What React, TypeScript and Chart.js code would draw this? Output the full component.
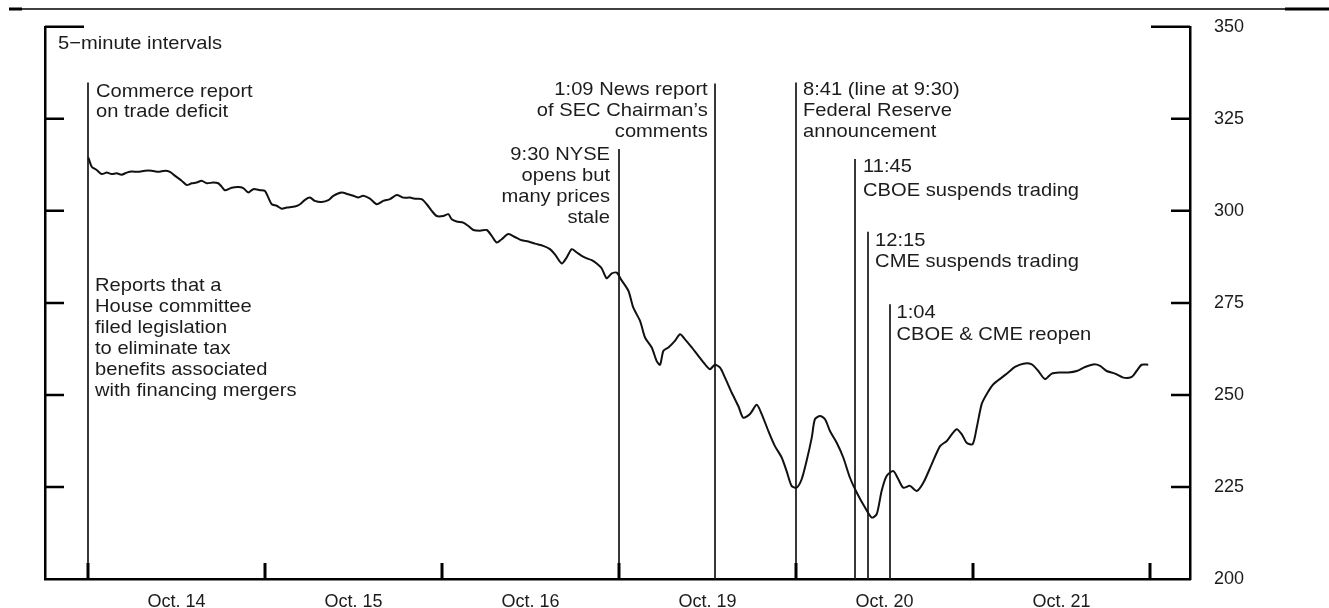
import { useEffect, useRef } from 'react';
import { Chart, registerables } from 'chart.js';

Chart.register(...registerables);

// ---- Data -------------------------------------------------------------
const dayLabels = ['Oct. 14', 'Oct. 15', 'Oct. 16', 'Oct. 19', 'Oct. 20', 'Oct. 21'];
const yTickValues = [200, 225, 250, 275, 300, 325, 350];

// position in trading days since the Oct. 14 open (one trading day = 9:30-4:15)
const tradingDay = [
  0.002, 0.021, 0.049, 0.077, 0.106, 0.134, 0.162, 0.190, 0.219, 0.247,
  0.284, 0.322, 0.360, 0.397, 0.435, 0.463, 0.492, 0.529, 0.558, 0.586,
  0.614, 0.642, 0.671, 0.708, 0.736, 0.755, 0.774, 0.812, 0.849, 0.877,
  0.906, 0.934, 0.972, 1.000, 1.019, 1.038, 1.066, 1.094, 1.123, 1.169,
  1.198, 1.226, 1.254, 1.282, 1.320, 1.358, 1.386, 1.433, 1.471, 1.499,
  1.527, 1.555, 1.593, 1.631, 1.668, 1.706, 1.744, 1.781, 1.819, 1.847,
  1.885, 1.914, 1.942, 1.970, 2.007, 2.036, 2.055, 2.083, 2.120, 2.149,
  2.177, 2.215, 2.253, 2.281, 2.309, 2.337, 2.375, 2.412, 2.450, 2.488,
  2.525, 2.572, 2.610, 2.638, 2.676, 2.704, 2.733, 2.761, 2.789, 2.818,
  2.846, 2.874, 2.902, 2.930, 2.959, 2.987,
  3.011, 3.053, 3.081, 3.119, 3.147, 3.185, 3.213, 3.232, 3.251, 3.279,
  3.316, 3.345, 3.373, 3.411, 3.448, 3.486, 3.514, 3.542, 3.571, 3.599,
  3.637, 3.674, 3.702, 3.740, 3.778, 3.806, 3.844, 3.881, 3.919, 3.947,
  3.975, 4.003, 4.032, 4.060, 4.089, 4.107, 4.136, 4.164, 4.192, 4.230,
  4.267, 4.305, 4.343, 4.390, 4.428, 4.456, 4.484, 4.512, 4.550, 4.578,
  4.606, 4.644, 4.682, 4.720, 4.767, 4.814, 4.852, 4.880, 4.908, 4.937,
  4.964, 4.998, 5.021, 5.049, 5.077, 5.115, 5.162, 5.199, 5.237, 5.284,
  5.332, 5.369, 5.407, 5.445, 5.492, 5.539, 5.586, 5.633, 5.680, 5.718,
  5.755, 5.802, 5.849, 5.897, 5.924, 5.953, 5.990,
];

const indexLevel = [
  314.5, 312.0, 311.1, 310.0, 310.4, 310.0, 310.2, 309.8, 310.4, 310.7,
  310.6, 310.9, 310.9, 310.6, 310.9, 310.6, 309.5, 308.2, 307.0, 307.5,
  307.7, 308.2, 307.5, 307.7, 307.5, 306.6, 305.6, 306.3, 306.5, 306.2,
  305.0, 305.9, 305.6, 305.4, 303.6, 301.8, 301.4, 300.6, 300.9, 301.2,
  301.8, 303.0, 303.6, 302.7, 302.4, 302.9, 304.1, 305.0, 304.5, 304.1,
  303.6, 304.1, 303.3, 301.8, 302.7, 303.2, 304.3, 303.6, 303.6, 303.3,
  303.2, 301.8, 300.0, 298.6, 298.6, 299.1, 297.7, 297.1, 296.8, 295.9,
  294.8, 294.6, 294.8, 293.2, 291.4, 292.3, 293.7, 292.9, 292.0, 291.7,
  291.1, 290.5, 289.6, 288.2, 285.7, 287.3, 289.6, 288.7, 287.8, 287.1,
  286.6, 285.7, 284.4, 281.7, 283.0, 283.2,
  281.4, 278.3, 273.7, 270.1, 265.6, 262.9, 259.2, 258.2, 262.0, 262.9,
  264.7, 266.5, 265.1, 262.9, 260.6, 258.3, 257.0, 258.2, 257.4, 254.7,
  250.6, 247.0, 243.8, 244.8, 247.3, 244.8, 240.2, 236.1, 233.0, 229.3,
  225.3, 224.8, 227.1, 232.1, 238.4, 243.4, 244.3, 243.4, 240.2, 237.0,
  233.0, 227.5, 223.5, 219.4, 216.7, 217.6, 224.0, 228.0, 229.3, 227.1,
  224.8, 225.3, 223.9, 226.2, 231.2, 236.1, 237.5, 239.3, 240.7, 239.3,
  237.0, 236.6, 241.1, 247.5, 250.2, 252.9, 254.7, 256.1, 257.6, 258.5,
  258.3, 256.5, 254.3, 255.8, 256.1, 256.1, 256.5, 257.6, 258.3, 257.9,
  256.5, 255.8, 254.7, 254.9, 256.5, 258.2, 258.2,
];

// event lines: time (trading days) and the index level where each line starts
const eventDay = [0, 3, 3 + 219 / 405, 4, 4 + 135 / 405, 4 + 165 / 405, 4 + 214 / 405];
const eventTop = [334.9, 316.8, 334.6, 334.9, 314.1, 294.3, 274.6];
const eventText = [
  ['Commerce report', 'on trade deficit'],
  ['9:30 NYSE', 'opens but', 'many prices', 'stale'],
  ['1:09 News report', 'of SEC Chairman\u2019s', 'comments'],
  ['8:41 (line at 9:30)', 'Federal Reserve', 'announcement'],
  ['11:45', 'CBOE suspends trading'],
  ['12:15', 'CME suspends trading'],
  ['1:04', 'CBOE & CME reopen'],
];
const houseNote = [
  'Reports that a',
  'House committee',
  'filed legislation',
  'to eliminate tax',
  'benefits associated',
  'with financing mergers',
];
const unitNote = '5\u2212minute intervals';

// ---- Styles / layout --------------------------------------------------
const FONT = '"Liberation Sans", Arial, Helvetica, sans-serif';
const TEXT_SIZE = 19;
const TEXT_SX = 1.06;
const TEXT_COLOR = '#1c1c1c';
// per event: [dx, dy of first line, line spacing, align]
const eventTextLayout: [number, number, number, 'left' | 'right'][] = [
  [8, 9, 20, 'left'],
  [-9, 6, 21, 'right'],
  [-7, 6, 21, 'right'],
  [7, 7, 21, 'left'],
  [8, 8, 24, 'left'],
  [7, 9, 21, 'left'],
  [7, 8, 22, 'left'],
];

function drawText(ctx: CanvasRenderingContext2D, text: string, x: number, y: number, align: 'left' | 'right') {
  ctx.save();
  ctx.font = `${TEXT_SIZE}px ${FONT}`;
  ctx.textBaseline = 'middle';
  ctx.textAlign = 'left';
  ctx.fillStyle = TEXT_COLOR;
  const w = ctx.measureText(text).width * TEXT_SX;
  const left = align === 'right' ? x - w : x;
  ctx.translate(left, y);
  ctx.scale(TEXT_SX, 1);
  ctx.fillText(text, 0, 0);
  ctx.restore();
}

const decorPlugin = {
  id: 'decor',
  beforeDatasetsDraw(chart: any) {
    const ctx: CanvasRenderingContext2D = chart.ctx;
    const xs = chart.scales.x;
    const ys = chart.scales.y;
    const bottom = chart.chartArea.bottom;
    ctx.save();
    ctx.strokeStyle = '#222';
    ctx.lineWidth = 1.8;
    eventDay.forEach((d, i) => {
      const px = Math.round(xs.getPixelForValue(d));
      ctx.beginPath();
      ctx.moveTo(px, ys.getPixelForValue(eventTop[i]));
      ctx.lineTo(px, bottom);
      ctx.stroke();
    });
    ctx.restore();
  },
  afterDraw(chart: any) {
    const ctx: CanvasRenderingContext2D = chart.ctx;
    const xs = chart.scales.x;
    const ys = chart.scales.y;
    const { left, right, top, bottom } = chart.chartArea;

    // header rule
    ctx.save();
    ctx.strokeStyle = '#000';
    ctx.lineWidth = 1.5;
    ctx.beginPath();
    ctx.moveTo(22, 9);
    ctx.lineTo(1285, 9);
    ctx.stroke();
    ctx.lineWidth = 3;
    ctx.beginPath();
    ctx.moveTo(9, 9);
    ctx.lineTo(22, 9);
    ctx.moveTo(1285, 9);
    ctx.lineTo(1329, 9);
    ctx.stroke();

    // axis tick marks pointing inward
    ctx.lineWidth = 2.5;
    yTickValues.forEach((v) => {
      if (v === 200) return;
      const py = ys.getPixelForValue(v);
      const len = v === 350 ? 39 : 19;
      ctx.beginPath();
      ctx.moveTo(left, py);
      ctx.lineTo(left + len, py);
      ctx.moveTo(right, py);
      ctx.lineTo(right - len, py);
      ctx.stroke();
    });
    ctx.lineWidth = 3;
    for (let d = 0; d <= dayLabels.length; d++) {
      const px = xs.getPixelForValue(d);
      ctx.beginPath();
      ctx.moveTo(px, bottom);
      ctx.lineTo(px, bottom - 16);
      ctx.stroke();
    }
    ctx.restore();

    // texts
    drawText(ctx, unitNote, left + 13, top + 17, 'left');
    eventText.forEach((lines, i) => {
      const [dx, dy, step, align] = eventTextLayout[i];
      const px = xs.getPixelForValue(eventDay[i]);
      const py = ys.getPixelForValue(eventTop[i]);
      lines.forEach((t, k) => drawText(ctx, t, px + dx, py + dy + k * step, align));
    });
    const hx = xs.getPixelForValue(eventDay[0]);
    const hy = ys.getPixelForValue(eventTop[0]);
    houseNote.forEach((t, k) => drawText(ctx, t, hx + 7, hy + 203 + k * 21, 'left'));
  },
};

export default function App() {
  const ref = useRef<HTMLCanvasElement | null>(null);

  useEffect(() => {
    if (!ref.current) return;
    const chart = new Chart(ref.current, {
      type: 'line',
      data: {
        datasets: [
          {
            data: tradingDay.map((d, i) => ({ x: d, y: indexLevel[i] })),
            borderColor: '#111',
            borderWidth: 2,
            pointRadius: 0,
            tension: 0.25,
            xAxisID: 'x',
            yAxisID: 'y',
          },
        ],
      },
      options: {
        animation: false,
        responsive: false,
        devicePixelRatio: 1,
        layout: { padding: { top: 24, left: 0, right: 0, bottom: 0 } },
        plugins: { legend: { display: false }, tooltip: { enabled: false } },
        scales: {
          x: {
            type: 'linear',
            position: 'bottom',
            min: -43 / 177,
            max: 6 + 40 / 177,
            afterBuildTicks: (s: any) => {
              s.ticks = dayLabels.map((_, i) => ({ value: i + 0.5 }));
            },
            afterFit: (s: any) => {
              s.height = 29;
            },
            grid: { display: false },
            border: { display: true, color: '#000', width: 2.5 },
            ticks: {
              autoSkip: false,
              maxRotation: 0,
              padding: 4,
              color: '#1c1c1c',
              font: { family: FONT, size: 18 },
              callback: (v: any) => dayLabels[Math.floor(Number(v))] ?? '',
            },
          },
          y: {
            position: 'right',
            min: 200,
            max: 350,
            afterBuildTicks: (s: any) => {
              s.ticks = yTickValues.map((v) => ({ value: v }));
            },
            afterFit: (s: any) => {
              s.width = 139;
            },
            grid: { display: false },
            border: { display: true, color: '#000', width: 2.5 },
            ticks: {
              padding: 16,
              color: '#1c1c1c',
              font: { family: FONT, size: 18 },
            },
          },
          yL: {
            position: 'left',
            min: 200,
            max: 350,
            afterFit: (s: any) => {
              s.width = 45;
            },
            grid: { display: false },
            border: { display: true, color: '#000', width: 2.5 },
            ticks: { display: false },
          },
        },
      },
      plugins: [decorPlugin],
    } as any);
    return () => chart.destroy();
  }, []);

  return (
    <div style={{ position: 'absolute', left: 0, top: 0, width: 1329, height: 608, background: '#fff' }}>
      <canvas ref={ref} width={1329} height={608} style={{ display: 'block' }} />
    </div>
  );
}
